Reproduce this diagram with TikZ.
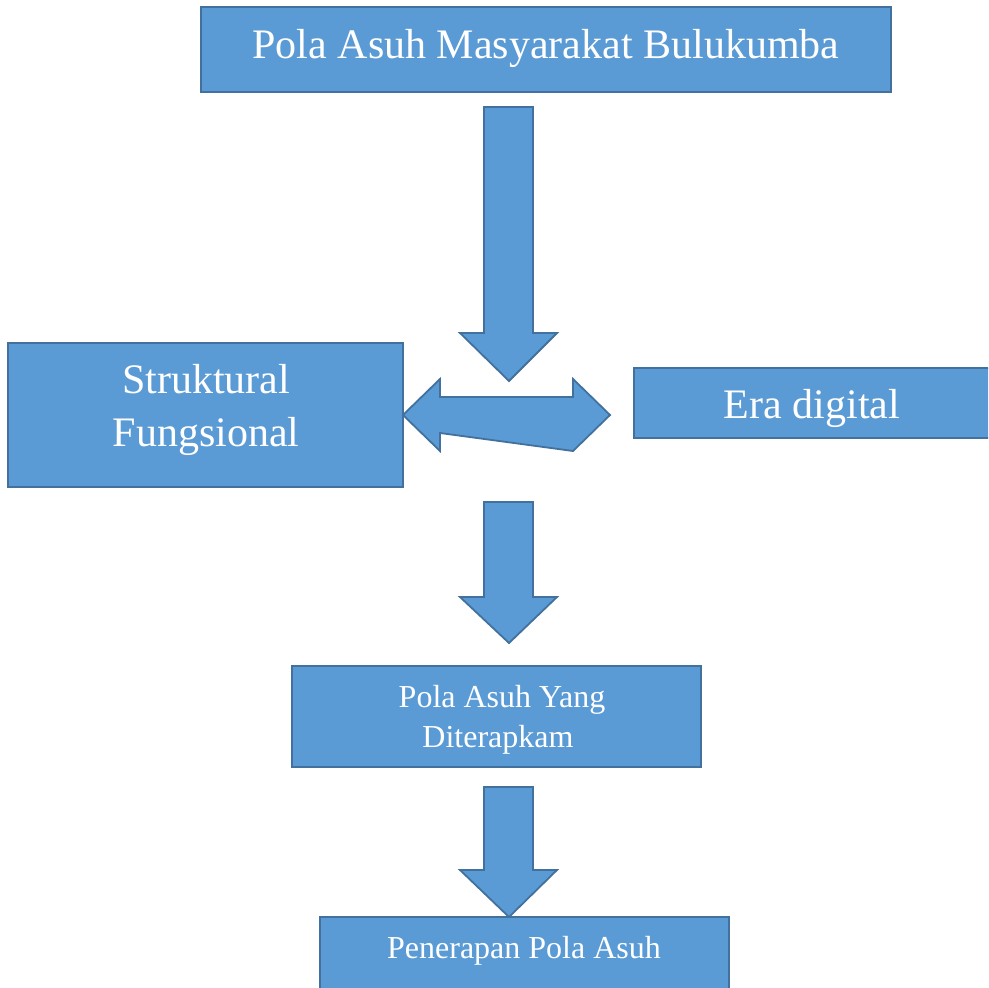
\documentclass[tikz,border=0pt]{standalone}
\usepackage{fontspec}
\setmainfont{Liberation Serif}
\definecolor{boxfill}{HTML}{5B9BD5}
\definecolor{boxline}{HTML}{41719C}
\tikzset{
  blk/.style={draw=boxline, fill=boxfill, line width=1.8pt, line join=miter},
  bigtxt/.style={text=white, font=\fontsize{42}{50}\selectfont, anchor=base, inner sep=0pt},
  smalltxt/.style={text=white, font=\fontsize{32}{38}\selectfont, anchor=base, inner sep=0pt}
}
\begin{document}
\begin{tikzpicture}[x=1pt,y=-1pt]
\useasboundingbox (0,0) rectangle (988,988);
\begin{scope}
\clip (0,0) rectangle (988,988);
% boxes
\draw[blk] (201,7) rectangle (891,92);
\node[bigtxt] (t1) at (546,58) {Pola Asuh Masyarakat Bulukumba};
% arrow 1
\draw[blk] (484,107) -- (533,107) -- (533,333) -- (557,333) -- (509,381) -- (460,333) -- (484,333) -- cycle;
% left box
\draw[blk] (8,343) rectangle (403,487);
\node[bigtxt] (t2a) at (206,393) {Struktural};
\node[bigtxt] (t2b) at (206,446) {Fungsional};
% right box
\draw[blk] (634,368) rectangle (995,438);
\node[bigtxt] (t3) at (812,418) {Era digital};
% double arrow
\draw[blk] (403,415) -- (440,379) -- (440,397) -- (573,397) -- (573,379) -- (610,415) -- (573,451) -- (440,433) -- (440,451) -- cycle;
% arrow 2
\draw[blk] (484,502) -- (533,502) -- (533,597) -- (557,597) -- (509,643) -- (460,597) -- (484,597) -- cycle;
% box 3
\draw[blk] (292,666) rectangle (701,767);
\node[smalltxt] (t4a) at (502,707) {Pola Asuh Yang};
\node[smalltxt] (t4b) at (498,747) {Diterapkam};
% arrow 3
\draw[blk] (484,787) -- (533,787) -- (533,870) -- (557,870) -- (509,917) -- (460,870) -- (484,870) -- cycle;
% box 4
\draw[blk] (320,917) rectangle (729,995);
\node[smalltxt] (t5) at (524,958) {Penerapan Pola Asuh};
\end{scope}
\end{tikzpicture}
\end{document}
